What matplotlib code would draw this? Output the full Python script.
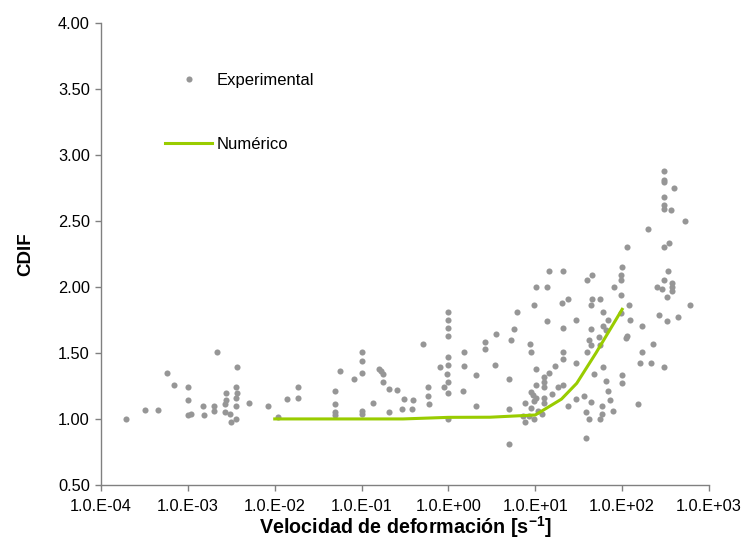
import matplotlib
matplotlib.use("Agg")
import matplotlib.pyplot as plt
from matplotlib.ticker import FixedLocator, FixedFormatter, NullLocator

# ---------------- data ----------------
exp_rate = [
    1.94e-4, 3.21e-4, 4.50e-4, 5.79e-4, 6.87e-4, 1.00e-3, 1.00e-3, 1.00e-3, 1.10e-3,
    1.48e-3, 1.53e-3, 1.98e-3, 1.98e-3, 2.15e-3, 2.65e-3, 2.72e-3, 2.75e-3, 2.65e-3,
    3.03e-3, 3.14e-3, 3.56e-3, 3.56e-3, 3.71e-3, 3.71e-3, 3.58e-3, 3.58e-3, 5.01e-3,
    8.38e-3, 1.09e-2, 1.38e-2, 1.84e-2, 1.84e-2,
    0.049, 0.049, 0.049, 0.049, 0.056, 0.0818, 0.101, 0.101, 0.101, 0.101, 0.101,
    0.136, 0.159, 0.169, 0.177, 0.177, 0.207, 0.207, 0.256, 0.292, 0.305, 0.378,
    0.394, 0.505, 0.577, 0.577, 0.603, 0.805, 0.881, 0.962,
    1.0, 1.0, 1.0, 1.0, 1.0, 1.0, 1.0, 1.0, 1.0,
    1.46, 1.51, 1.51, 2.06, 2.06,
    10.2, 9.75, 6.15, 5.64, 5.21, 3.53, 2.64, 2.64, 3.40, 8.69, 8.93, 4.98, 10.2,
    10.2, 8.93, 9.33, 10.2, 7.67, 9.75, 8.93, 4.98, 7.28, 8.53, 9.75, 7.67, 10.6, 4.98,
    14.4, 21.0, 13.8, 39.7, 45.3, 20.1, 23.8, 45.3, 43.4, 56.1, 60.7, 13.8, 21.0,
    29.4, 43.4, 68.7, 60.7, 65.5, 41.5, 53.7, 43.4, 56.1, 39.7, 21.0, 21.0, 29.4,
    17.0, 14.4, 12.6, 12.6, 12.6, 18.4, 21.0, 60.7, 47.0, 65.8, 15.6, 12.6, 12.6,
    68.7, 36.4, 29.4, 23.8, 43.4, 58.6, 72.4, 38.0, 58.6, 41.5, 56.1, 11.9, 38.0,
    115, 100, 96.2, 96.2, 81.3, 120, 96.2, 96.2, 124, 110, 115, 100, 100, 153, 78.3,
    168, 168, 160, 224, 215, 303, 249, 290, 303, 303, 337, 328, 328, 268,
    303, 303, 303, 303, 303, 303, 392, 362, 525, 199, 346, 375, 375, 375, 598, 443,
]
exp_cdif = [
    1.00, 1.07, 1.07, 1.35, 1.26, 1.24, 1.14, 1.03, 1.04,
    1.10, 1.03, 1.10, 1.06, 1.51, 1.11, 1.20, 1.14, 1.05,
    1.04, 0.98, 1.24, 1.16, 1.20, 1.39, 1.10, 1.00, 1.12,
    1.10, 1.015, 1.15, 1.24, 1.16,
    1.21, 1.11, 1.05, 1.03, 1.365, 1.305, 1.51, 1.44, 1.35, 1.06, 1.04,
    1.12, 1.38, 1.365, 1.34, 1.28, 1.23, 1.05, 1.22, 1.075, 1.15, 1.075,
    1.14, 1.57, 1.24, 1.17, 1.11, 1.39, 1.24, 1.34,
    1.81, 1.75, 1.69, 1.63, 1.47, 1.41, 1.28, 1.20, 1.00,
    1.21, 1.51, 1.40, 1.33, 1.10,
    2.00, 1.86, 1.81, 1.68, 1.60, 1.64, 1.58, 1.53, 1.41, 1.57, 1.51, 1.30, 1.375,
    1.256, 1.207, 1.184, 1.158, 1.124, 1.133, 1.086, 1.073, 1.026, 1.026, 1.003, 0.977, 1.063, 0.809,
    2.12, 2.12, 2.00, 2.05, 2.09, 1.88, 1.905, 1.905, 1.86, 1.905, 1.81, 1.74, 1.69,
    1.75, 1.68, 1.75, 1.70, 1.67, 1.60, 1.62, 1.56, 1.56, 1.51, 1.51, 1.45, 1.425,
    1.40, 1.35, 1.32, 1.28, 1.24, 1.24, 1.26, 1.39, 1.34, 1.29, 1.19, 1.16, 1.12,
    1.21, 1.17, 1.15, 1.10, 1.13, 1.10, 1.14, 1.05, 1.04, 1.00, 1.00, 1.04, 0.857,
    2.30, 2.15, 2.09, 2.05, 2.00, 1.86, 1.94, 1.80, 1.75, 1.61, 1.63, 1.33, 1.27, 1.11, 1.06,
    1.70, 1.51, 1.425, 1.57, 1.425, 1.39, 2.00, 1.98, 2.05, 2.30, 2.12, 1.92, 1.74, 1.79,
    2.88, 2.81, 2.79, 2.68, 2.62, 2.59, 2.75, 2.58, 2.50, 2.44, 2.33, 2.03, 2.00, 1.965, 1.86, 1.77,
]

num_rate = [0.01, 0.1, 0.3, 1, 3, 10, 20, 30, 50, 100]
num_cdif = [1.00, 1.00, 1.00, 1.012, 1.013, 1.03, 1.15, 1.27, 1.50, 1.83]

x_tick_values = [1e-4, 1e-3, 1e-2, 1e-1, 1e0, 1e1, 1e2, 1e3]
x_tick_labels = ["1.0.E-04", "1.0.E-03", "1.0.E-02", "1.0.E-01",
                 "1.0.E+00", "1.0.E+01", "1.0.E+02", "1.0.E+03"]
y_tick_values = [0.5, 1.0, 1.5, 2.0, 2.5, 3.0, 3.5, 4.0]
y_tick_labels = ["0.50", "1.00", "1.50", "2.00", "2.50", "3.00", "3.50", "4.00"]

# ---------------- style ----------------
plt.rcParams["font.family"] = ["Liberation Sans", "DejaVu Sans"]
plt.rcParams["mathtext.fontset"] = "custom"
plt.rcParams["mathtext.rm"] = "Liberation Sans"
plt.rcParams["mathtext.bf"] = "Liberation Sans:bold"

fig = plt.figure(figsize=(7.45, 5.57), dpi=100)
ax = fig.add_axes([0.1356, 0.1293, 0.8161, 0.8300])

ax.plot(exp_rate, exp_cdif, "o", ls="none", color="#969696", markersize=4.4,
        markeredgewidth=0, label="Experimental", zorder=2)
ax.plot(num_rate, num_cdif, "-", color="#99CC00", linewidth=2.2,
        label="Numérico", zorder=3)

ax.set_xscale("log")
ax.set_xlim(1e-4, 1e3)
ax.set_ylim(0.5, 4.0)
ax.xaxis.set_major_locator(FixedLocator(x_tick_values))
ax.xaxis.set_major_formatter(FixedFormatter(x_tick_labels))
ax.xaxis.set_minor_locator(NullLocator())
ax.yaxis.set_major_locator(FixedLocator(y_tick_values))
ax.yaxis.set_major_formatter(FixedFormatter(y_tick_labels))

for s in ["top", "right"]:
    ax.spines[s].set_visible(False)
for s in ["left", "bottom"]:
    ax.spines[s].set_color("#808080")
    ax.spines[s].set_linewidth(1.0)
ax.tick_params(axis="both", direction="out", length=4, width=1.0, color="#808080",
               labelsize=11.8, labelcolor="black")
ax.tick_params(axis="x", pad=6)
ax.tick_params(axis="y", pad=4)

ax.set_xlabel(r"Velocidad de deformación [s$^{\mathbf{-1}}$]", fontsize=14.2,
              fontweight="bold", labelpad=0)
ax.set_ylabel("CDIF", fontsize=13.5, fontweight="bold", labelpad=17)

leg = ax.legend(loc="upper left", bbox_to_anchor=(0.106, 0.892), frameon=False,
                fontsize=12, handlelength=2.8, handletextpad=0.26,
                labelspacing=2.96, borderpad=0, borderaxespad=0, numpoints=1)

fig.savefig("out.png", dpi=100)
